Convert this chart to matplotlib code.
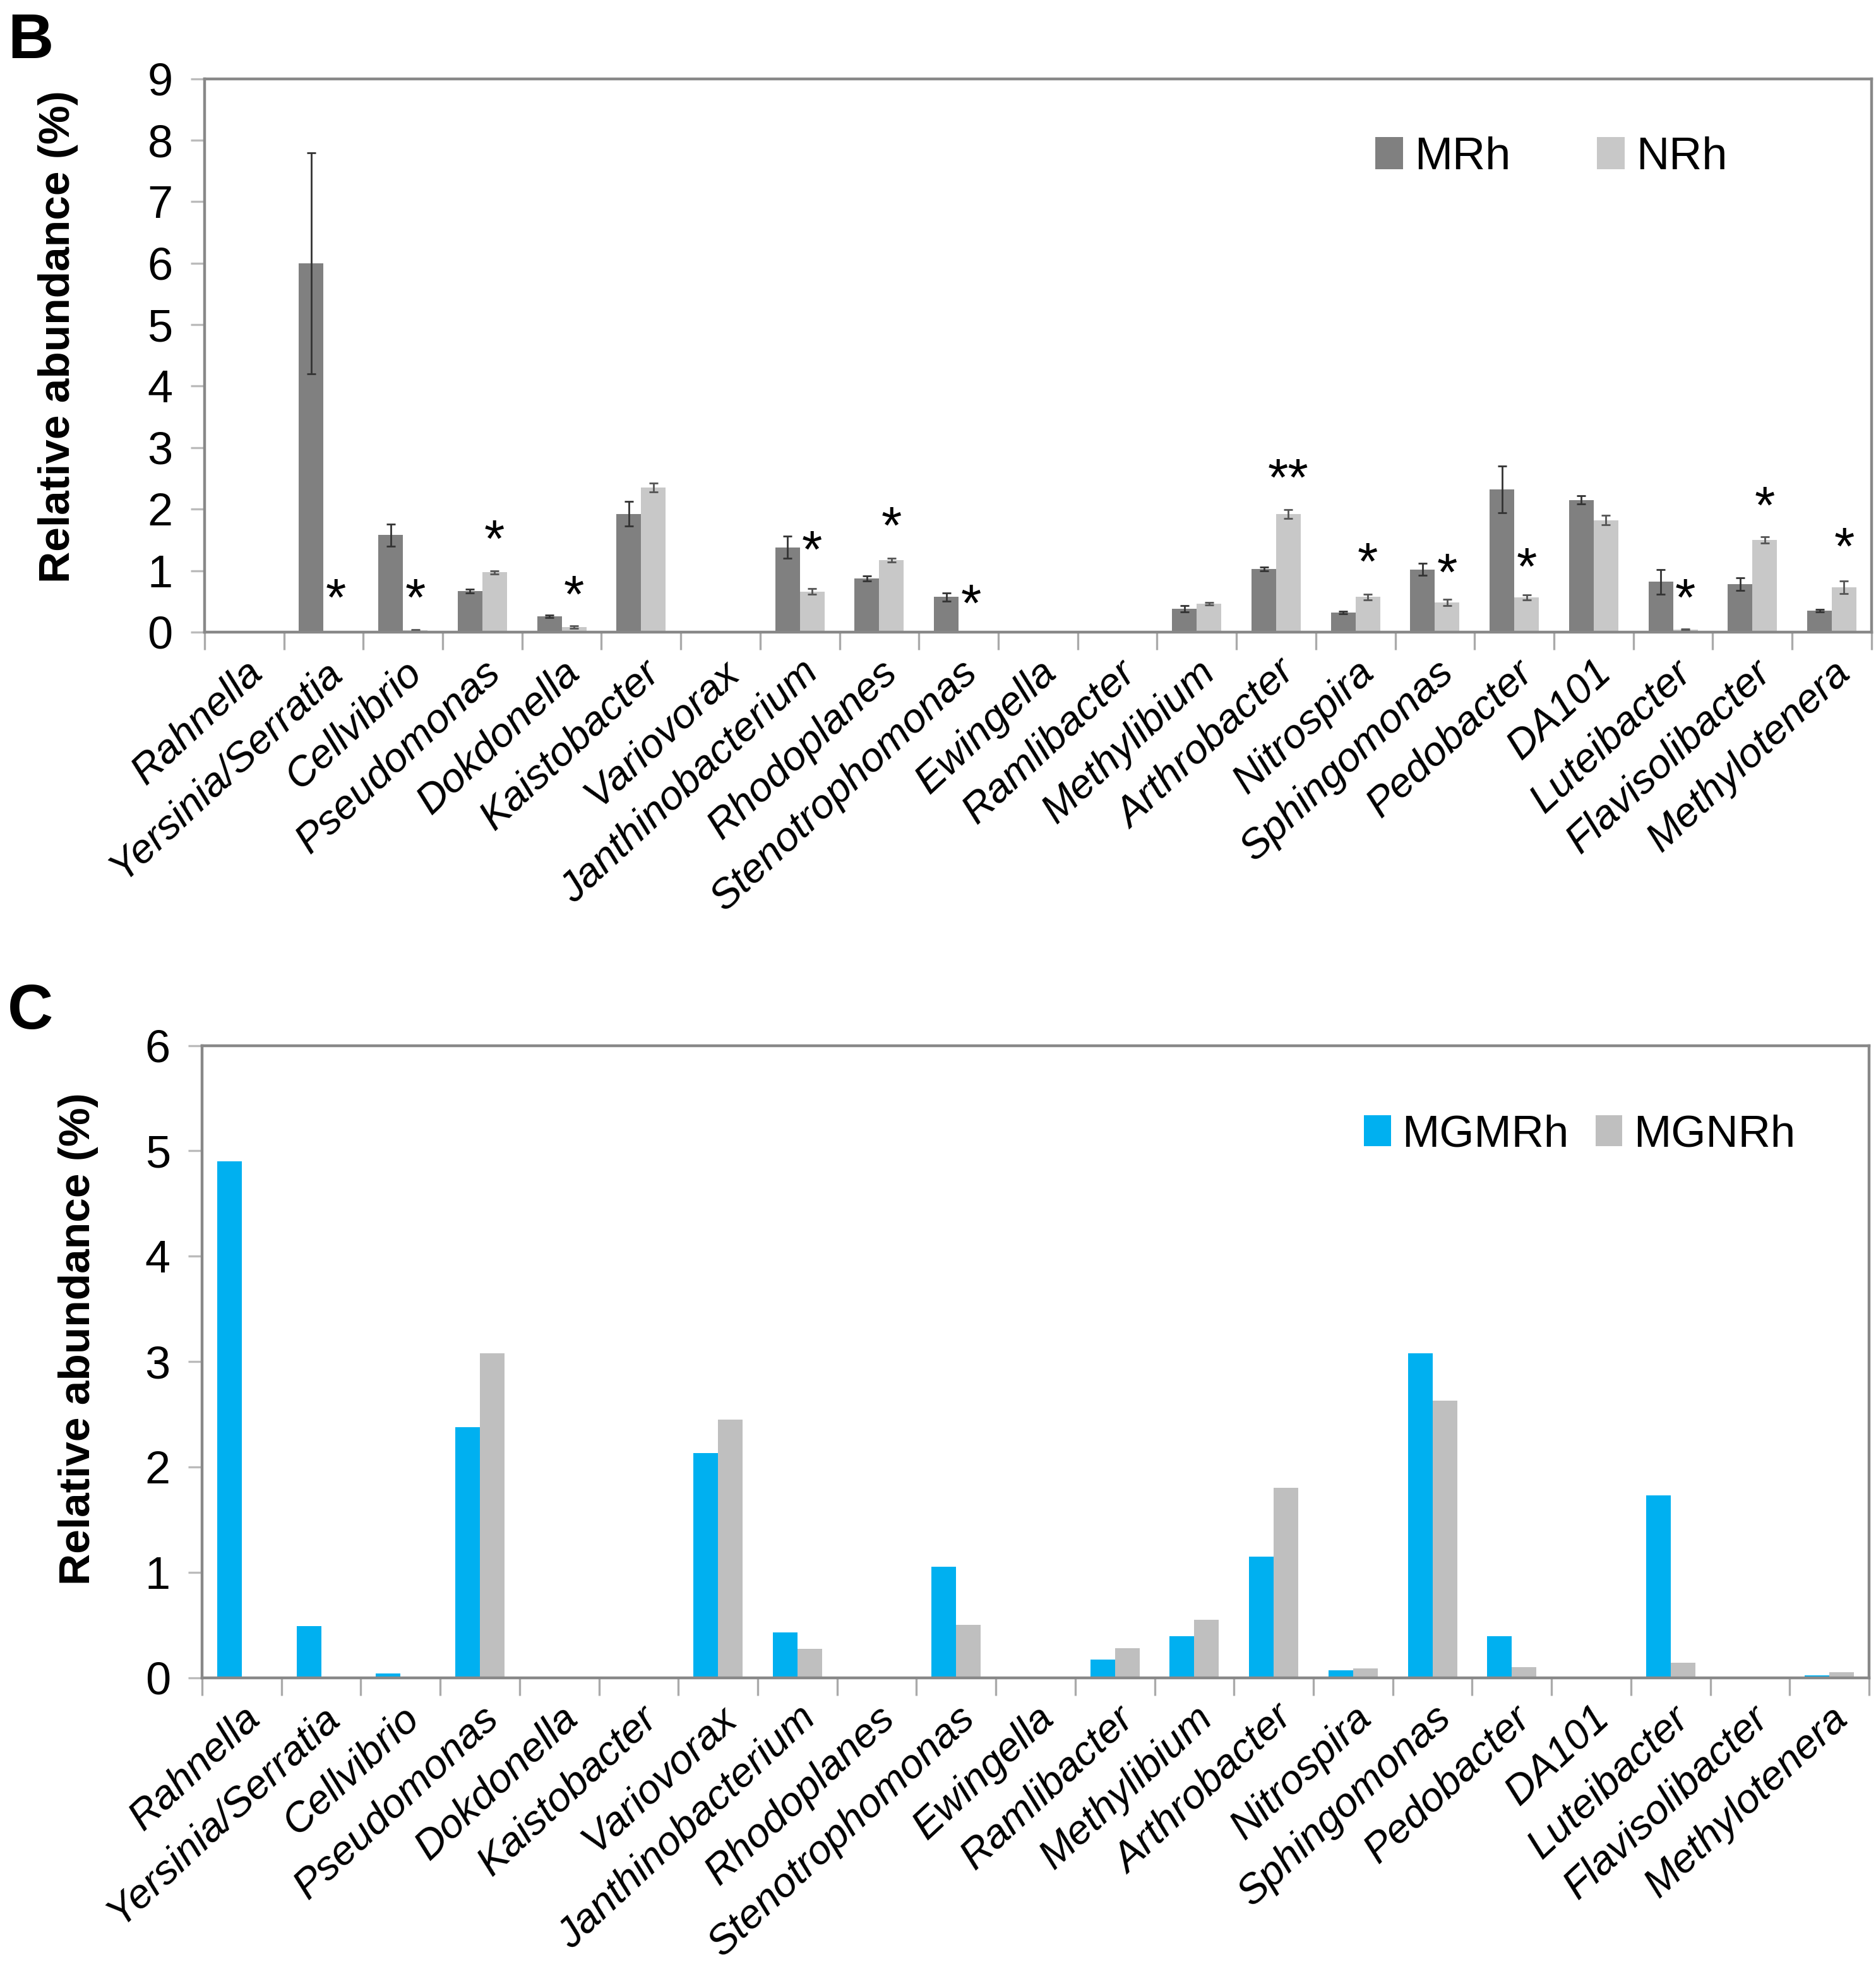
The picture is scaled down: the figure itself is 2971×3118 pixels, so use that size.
import numpy as np
import matplotlib.pyplot as plt

plt.rcParams['font.family'] = ['Liberation Sans', 'DejaVu Sans']

genera = ["Rahnella", "Yersinia/Serratia", "Cellvibrio", "Pseudomonas", "Dokdonella",
          "Kaistobacter", "Variovorax", "Janthinobacterium", "Rhodoplanes",
          "Stenotrophomonas", "Ewingella", "Ramlibacter", "Methylibium", "Arthrobacter",
          "Nitrospira", "Sphingomonas", "Pedobacter", "DA101", "Luteibacter",
          "Flavisolibacter", "Methylotenera"]

# panel B: rhizosphere, mean and error
mrh = [0, 6.0, 1.58, 0.67, 0.26, 1.92, 0, 1.38, 0.87, 0.57, 0, 0, 0.38, 1.03, 0.32,
       1.02, 2.32, 2.15, 0.82, 0.78, 0.35]
mrh_err = [0, 1.8, 0.18, 0.03, 0.02, 0.2, 0, 0.18, 0.04, 0.07, 0, 0, 0.05, 0.03, 0.02,
           0.1, 0.38, 0.07, 0.2, 0.1, 0.02]
nrh = [0, 0, 0.03, 0.97, 0.08, 2.35, 0, 0.66, 1.17, 0, 0, 0, 0.46, 1.92, 0.57,
       0.48, 0.56, 1.82, 0.04, 1.5, 0.73]
nrh_err = [0, 0, 0.01, 0.03, 0.02, 0.07, 0, 0.05, 0.03, 0, 0, 0, 0.02, 0.07, 0.05,
           0.05, 0.04, 0.08, 0.01, 0.05, 0.1]
# significance marks and the height they sit at
sig = ["", "*", "*", "*", "*", "", "", "*", "*", "*", "", "", "", "**", "*",
       "*", "*", "", "*", "*", "*"]
sig_y = [0, 0.5, 0.5, 1.45, 0.55, 0, 0, 1.28, 1.67, 0.4, 0, 0, 0, 2.45, 1.08,
         0.91, 1.0, 0, 0.5, 2.0, 1.33]

# panel C: metagenome
mgmrh = [4.9, 0.49, 0.04, 2.38, 0, 0, 2.13, 0.43, 0, 1.05, 0.01, 0.17, 0.39, 1.15,
         0.07, 3.08, 0.39, 0, 1.73, 0, 0.02]
mgnrh = [0.01, 0.01, 0.01, 3.08, 0, 0, 2.45, 0.27, 0, 0.5, 0.01, 0.28, 0.55, 1.8,
         0.09, 2.63, 0.1, 0, 0.14, 0, 0.05]

x = np.arange(len(genera))
w = 0.31

fig = plt.figure(figsize=(14.855, 15.59), dpi=200)
axB = fig.add_axes([0.109, 0.679, 0.8886, 0.281])
axC = fig.add_axes([0.1077, 0.148, 0.8886, 0.321])


def style_axis(ax, ymax):
    ax.set_xlim(-0.5, len(genera) - 0.5)
    ax.set_ylim(0, ymax)
    ax.set_yticks(range(0, ymax + 1))
    ax.set_xticks(x)
    ax.set_xticklabels(genera, rotation=43, ha='right', rotation_mode='anchor',
                       fontsize=23.5, style='italic')
    ax.set_xticks(np.arange(-0.5, len(genera)), minor=True)
    ax.tick_params(axis='x', which='major', length=0, pad=12)
    ax.tick_params(axis='x', which='minor', length=10, width=1.2, color='#aaaaaa')
    ax.tick_params(axis='y', length=8, width=1.2, color='#bbbbbb', labelsize=26, pad=10)
    for s in ax.spines.values():
        s.set_color('#888888')
        s.set_linewidth(1.6)
    ax.set_ylabel("Relative abundance (%)", fontsize=25, fontweight='bold')


axB.bar(x - w / 2, mrh, w, color='#808080', label='MRh',
        yerr=mrh_err, error_kw=dict(ecolor='#333333', elinewidth=1, capsize=2.5, capthick=1))
axB.bar(x + w / 2, nrh, w, color='#c8c8c8', label='NRh',
        yerr=nrh_err, error_kw=dict(ecolor='#555555', elinewidth=1, capsize=2.5, capthick=1))
for i, s in enumerate(sig):
    if s:
        axB.text(x[i] + w / 2, sig_y[i], s, ha='center', va='center', fontsize=30)
style_axis(axB, 9)
axB.yaxis.set_label_coords(-0.0758, 0.534)
axB.legend(loc='upper right', bbox_to_anchor=(0.938, 0.97), ncol=2, frameon=False,
           fontsize=26, handlelength=0.6, handleheight=0.7, handletextpad=0.25,
           columnspacing=1.9)

axC.bar(x - w / 2, mgmrh, w, color='#00b0f0', label='MGMRh')
axC.bar(x + w / 2, mgnrh, w, color='#bfbfbf', label='MGNRh')
style_axis(axC, 6)
axC.yaxis.set_label_coords(-0.062, 0.536)
axC.legend(loc='upper right', bbox_to_anchor=(0.98, 0.955), ncol=2, frameon=False,
           fontsize=25.5, handlelength=0.6, handleheight=0.7, handletextpad=0.25,
           columnspacing=0.6)

fig.text(0.004, 0.994, "B", fontsize=36, fontweight='bold', va='top')
fig.text(0.004, 0.501, "C", fontsize=36, fontweight='bold', va='top')

fig.savefig("out.png", dpi=200, facecolor='white')
